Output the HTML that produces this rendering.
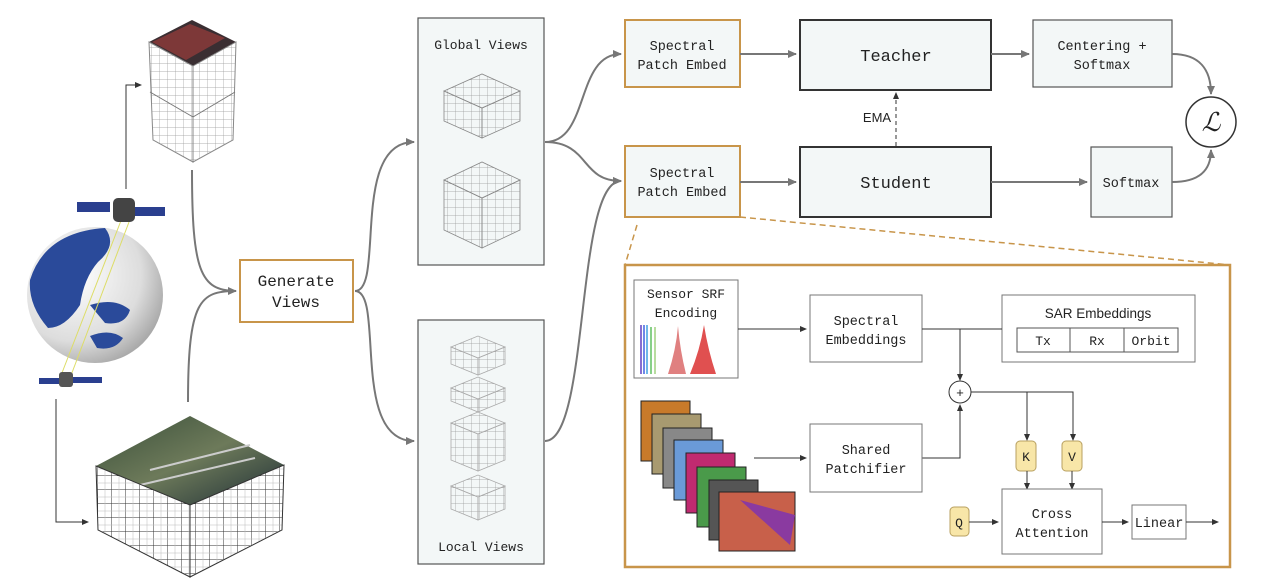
<!DOCTYPE html>
<html><head><meta charset="utf-8"><style>
html,body{margin:0;padding:0;background:#fff;}
svg{display:block;}
text{font-family:"Liberation Mono",monospace;fill:#222;}
.s{font-family:"Liberation Sans",sans-serif;}
</style></head><body>
<svg width="1263" height="582" viewBox="0 0 1263 582" xmlns="http://www.w3.org/2000/svg">
<defs>
<marker id="ag" markerWidth="10" markerHeight="10" refX="8" refY="5" orient="auto" markerUnits="userSpaceOnUse"><path d="M0,1 L9,5 L0,9 Z" fill="#777"/></marker>
<marker id="ak" markerWidth="8" markerHeight="8" refX="6" refY="4" orient="auto" markerUnits="userSpaceOnUse"><path d="M0,1 L7,4 L0,7 Z" fill="#333"/></marker>
<pattern id="grid" width="8" height="8" patternUnits="userSpaceOnUse"><path d="M8 0V8H0" fill="none" stroke="#999" stroke-width="0.7"/></pattern>
<pattern id="gridk" width="14" height="14" patternUnits="userSpaceOnUse"><rect width="14" height="14" fill="#fff"/><path d="M14 0V14H0" fill="none" stroke="#333" stroke-width="1"/><path d="M7 0V14M0 7H14" stroke="#bbb" stroke-width="0.5"/></pattern>
<radialGradient id="globe" cx="0.35" cy="0.35" r="0.7"><stop offset="0" stop-color="#fff"/><stop offset="0.7" stop-color="#ddd"/><stop offset="1" stop-color="#aaa"/></radialGradient>
<linearGradient id="sat" x1="0" y1="0" x2="1" y2="1"><stop offset="0" stop-color="#3a4f3a"/><stop offset="0.5" stop-color="#6d7a5a"/><stop offset="1" stop-color="#1e2e36"/></linearGradient>
</defs>

<!-- left: tall cube -->
<polygon points="149,42 192,20 236,42 193,66" fill="#3a2e32"/>
<polygon points="152,42 190,24 225,38 186,60" fill="#8a3a3a" opacity="0.85"/>
<polygon points="149,42 193,66 193,162 153,140" fill="url(#grid)" stroke="#888"/>
<polygon points="193,66 236,42 233,140 193,162" fill="url(#grid)" stroke="#888"/>
<line x1="150" y1="92" x2="193" y2="117" stroke="#777"/><line x1="193" y1="117" x2="235" y2="92" stroke="#777"/>

<!-- globe -->
<circle cx="95" cy="295" r="68" fill="url(#globe)"/>
<path d="M30,280 Q45,232 105,228 Q118,245 98,262 Q84,278 80,305 Q65,328 48,328 Q28,305 30,280Z" fill="#2a4a9a"/>
<path d="M90,305 Q115,297 130,310 Q125,326 105,323 Z" fill="#2a4a9a"/>
<path d="M90,336 Q110,328 123,338 Q115,351 97,348 Z" fill="#2a4a9a"/>
<line x1="122" y1="218" x2="60" y2="378" stroke="#dd6" stroke-width="1"/>
<line x1="129" y1="222" x2="70" y2="378" stroke="#dd6" stroke-width="1"/>
<!-- satellites -->
<rect x="77" y="202" width="33" height="10" fill="#2a3f8f"/><rect x="133" y="207" width="32" height="9" fill="#2a3f8f"/>
<rect x="113" y="198" width="22" height="24" rx="5" fill="#444"/>
<rect x="39" y="378" width="24" height="6" fill="#2a3f8f"/><rect x="72" y="377" width="30" height="6" fill="#2a3f8f"/>
<rect x="59" y="372" width="14" height="15" rx="3" fill="#555"/>
<!-- sat arrows -->
<path d="M126,189 V85 H141" fill="none" stroke="#333" marker-end="url(#ak)"/>
<path d="M56,399 V522 H88" fill="none" stroke="#333" marker-end="url(#ak)"/>

<!-- bottom cube -->
<polygon points="96,466 190,416 284,465 190,505" fill="url(#sat)"/>
<path d="M150,470 L250,445 M140,485 L255,458" stroke="#ccc" stroke-width="2"/>
<polygon points="96,466 190,505 190,577 98,530" fill="url(#gridk)" stroke="#333"/>
<polygon points="190,505 284,465 282,530 190,577" fill="url(#gridk)" stroke="#333"/>

<!-- curves into Generate Views -->
<path d="M192,170 C192,270 200,291 236,291" fill="none" stroke="#777" stroke-width="2" marker-end="url(#ag)"/>
<path d="M188,402 C188,300 200,291 236,291" fill="none" stroke="#777" stroke-width="2"/>
<rect x="240" y="260" width="113" height="62" fill="#fff" stroke="#c8954a" stroke-width="2"/>
<text x="296" y="286" font-size="16" text-anchor="middle">Generate</text>
<text x="296" y="307" font-size="16" text-anchor="middle">Views</text>

<!-- to global/local -->
<path d="M355,291 C385,291 350,142 414,142" fill="none" stroke="#777" stroke-width="2" marker-end="url(#ag)"/>
<path d="M355,291 C385,291 350,441 414,441" fill="none" stroke="#777" stroke-width="2" marker-end="url(#ag)"/>

<!-- global views -->
<rect x="418" y="18" width="126" height="247" fill="#f3f7f7" stroke="#555" stroke-width="1.2"/>
<text x="481" y="49" font-size="13" text-anchor="middle">Global Views</text>
<g stroke="#888" stroke-width="0.8" fill="url(#grid)">
<polygon points="444,91 482,74 520,91 482,108"/>
<polygon points="444,91 482,108 482,138 444,121"/>
<polygon points="482,108 520,91 520,121 482,138"/>
<polygon points="444,180 482,162 520,180 482,198"/>
<polygon points="444,180 482,198 482,248 444,230"/>
<polygon points="482,198 520,180 520,230 482,248"/>
</g>
<!-- local views -->
<rect x="418" y="320" width="126" height="244" fill="#f3f7f7" stroke="#555" stroke-width="1.2"/>
<text x="481" y="551" font-size="13" text-anchor="middle">Local Views</text>
<g stroke="#aaa" stroke-width="0.8" fill="url(#grid)">
<polygon points="451,347 478,336 505,347 478,358"/><polygon points="451,347 478,358 478,375 451,364"/><polygon points="478,358 505,347 505,364 478,375"/>
<polygon points="451,388 478,377 505,388 478,399"/><polygon points="451,388 478,399 478,412 451,401"/><polygon points="478,399 505,388 505,401 478,412"/>
<polygon points="451,423 478,412 505,423 478,434"/><polygon points="451,423 478,434 478,471 451,460"/><polygon points="478,434 505,423 505,460 478,471"/>
<polygon points="451,486 478,475 505,486 478,497"/><polygon points="451,486 478,497 478,520 451,509"/><polygon points="478,497 505,486 505,509 478,520"/>
</g>

<!-- to patch embeds -->
<path d="M545,142 C590,142 575,54 621,54" fill="none" stroke="#777" stroke-width="2" marker-end="url(#ag)"/>
<path d="M545,142 C590,142 580,181 621,181" fill="none" stroke="#777" stroke-width="2" marker-end="url(#ag)"/>
<path d="M545,441 C590,441 575,181 621,181" fill="none" stroke="#777" stroke-width="2" marker-end="url(#ag)"/>

<rect x="625" y="20" width="115" height="67" fill="#f3f7f7" stroke="#c8954a" stroke-width="2"/>
<text x="682" y="50" font-size="13.5" text-anchor="middle">Spectral</text>
<text x="682" y="69" font-size="13.5" text-anchor="middle">Patch Embed</text>
<rect x="625" y="146" width="115" height="71" fill="#f3f7f7" stroke="#c8954a" stroke-width="2"/>
<text x="682" y="177" font-size="13.5" text-anchor="middle">Spectral</text>
<text x="682" y="196" font-size="13.5" text-anchor="middle">Patch Embed</text>

<path d="M740,54 H796" stroke="#777" stroke-width="2" marker-end="url(#ag)"/>
<path d="M740,182 H796" stroke="#777" stroke-width="2" marker-end="url(#ag)"/>
<rect x="800" y="20" width="191" height="70" fill="#f3f7f7" stroke="#333" stroke-width="2"/>
<text x="896" y="61" font-size="17" text-anchor="middle">Teacher</text>
<rect x="800" y="147" width="191" height="70" fill="#f3f7f7" stroke="#333" stroke-width="2"/>
<text x="896" y="188" font-size="17" text-anchor="middle">Student</text>
<text x="877" y="122" font-size="13" class="s" text-anchor="middle">EMA</text>
<path d="M896,146 V93" stroke="#333" stroke-dasharray="4,3" marker-end="url(#ak)"/>

<path d="M991,54 H1029" stroke="#777" stroke-width="2" marker-end="url(#ag)"/>
<path d="M991,182 H1087" stroke="#777" stroke-width="2" marker-end="url(#ag)"/>
<rect x="1033" y="20" width="139" height="67" fill="#f3f7f7" stroke="#555" stroke-width="1.2"/>
<text x="1102" y="50" font-size="13.5" text-anchor="middle">Centering +</text>
<text x="1102" y="69" font-size="13.5" text-anchor="middle">Softmax</text>
<rect x="1091" y="147" width="81" height="70" fill="#f3f7f7" stroke="#555" stroke-width="1.2"/>
<text x="1131" y="187" font-size="13.5" text-anchor="middle">Softmax</text>
<path d="M1172,54 C1200,54 1211,70 1211,94" fill="none" stroke="#777" stroke-width="2" marker-end="url(#ag)"/>
<path d="M1172,182 C1200,182 1211,170 1211,150" fill="none" stroke="#777" stroke-width="2" marker-end="url(#ag)"/>
<circle cx="1211" cy="122" r="25" fill="#fff" stroke="#333" stroke-width="1.5"/>
<text x="1211" y="131" font-size="26" font-style="italic" text-anchor="middle" style="font-family:'Liberation Serif',serif">ℒ</text>

<!-- dashed zoom lines -->
<path d="M740,217 L1230,265" stroke="#c8954a" stroke-width="1.5" stroke-dasharray="6,4"/>
<path d="M637,225 L625,265" stroke="#c8954a" stroke-width="1.5" stroke-dasharray="6,4"/>

<!-- detail box -->
<rect x="625" y="265" width="605" height="302" fill="#fff" stroke="#c8954a" stroke-width="2.5"/>
<rect x="634" y="280" width="104" height="98" fill="#fff" stroke="#777"/>
<text x="686" y="298" font-size="13" text-anchor="middle">Sensor SRF</text>
<text x="686" y="317" font-size="13" text-anchor="middle">Encoding</text>
<g stroke-width="1.5"><line x1="641" y1="325" x2="641" y2="374" stroke="#6040c0"/><line x1="644" y1="325" x2="644" y2="374" stroke="#4060e0"/><line x1="647" y1="325" x2="647" y2="374" stroke="#40a0e0"/><line x1="651" y1="327" x2="651" y2="374" stroke="#60c060"/><line x1="655" y1="327" x2="655" y2="374" stroke="#a0d080"/></g>
<path d="M668,374 Q676,350 678,326 Q680,350 686,374Z" fill="#e08080"/>
<path d="M690,374 Q700,350 704,325 Q708,350 716,374Z" fill="#e05050"/>

<rect x="810" y="295" width="112" height="67" fill="#fff" stroke="#777"/>
<text x="866" y="325" font-size="13.5" text-anchor="middle">Spectral</text>
<text x="866" y="344" font-size="13.5" text-anchor="middle">Embeddings</text>
<rect x="1002" y="295" width="193" height="67" fill="#fff" stroke="#777"/>
<text x="1098" y="318" font-size="13.5" class="s" text-anchor="middle">SAR Embeddings</text>
<rect x="1017" y="328" width="161" height="24" fill="#fff" stroke="#555"/>
<line x1="1070" y1="328" x2="1070" y2="352" stroke="#555"/><line x1="1124" y1="328" x2="1124" y2="352" stroke="#555"/>
<text x="1043" y="345" font-size="13" text-anchor="middle">Tx</text>
<text x="1097" y="345" font-size="13" text-anchor="middle">Rx</text>
<text x="1151" y="345" font-size="13" text-anchor="middle">Orbit</text>

<path d="M738,329 H806" stroke="#333" marker-end="url(#ak)"/>
<path d="M922,329 H1002" stroke="#333"/>
<path d="M960,329 V380" stroke="#333" marker-end="url(#ak)"/>
<circle cx="960" cy="392" r="11" fill="#fff" stroke="#333"/>
<text x="960" y="397" font-size="13" text-anchor="middle">+</text>
<path d="M922,458 H960 V405" stroke="#333" fill="none" marker-end="url(#ak)"/>
<path d="M971,392 H1073 V440" fill="none" stroke="#333" marker-end="url(#ak)"/>
<path d="M1027,392 V440" stroke="#333" marker-end="url(#ak)"/>

<!-- image stack -->
<g stroke="#222" stroke-width="1">
<rect x="641" y="401" width="49" height="60" fill="#c87a2a"/>
<rect x="652" y="414" width="49" height="60" fill="#a89a70"/>
<rect x="663" y="428" width="49" height="60" fill="#888"/>
<rect x="674" y="440" width="49" height="60" fill="#6a9ad8"/>
<rect x="686" y="453" width="49" height="60" fill="#c02a70"/>
<rect x="697" y="467" width="49" height="60" fill="#4a9a4a"/>
<rect x="709" y="480" width="49" height="60" fill="#555"/>
<rect x="719" y="492" width="76" height="59" fill="#c8604a"/>
<path d="M740,500 L790,545 L795,515Z" fill="#8a3aa0" stroke="none"/>
</g>
<path d="M754,458 H806" stroke="#333" marker-end="url(#ak)"/>
<rect x="810" y="424" width="112" height="68" fill="#fff" stroke="#777"/>
<text x="866" y="454" font-size="13.5" text-anchor="middle">Shared</text>
<text x="866" y="473" font-size="13.5" text-anchor="middle">Patchifier</text>

<rect x="1016" y="441" width="20" height="30" rx="4" fill="#f8e6a8" stroke="#b8a060"/>
<text x="1026" y="461" font-size="13" text-anchor="middle">K</text>
<rect x="1062" y="441" width="20" height="30" rx="4" fill="#f8e6a8" stroke="#b8a060"/>
<text x="1072" y="461" font-size="13" text-anchor="middle">V</text>
<path d="M1027,471 V489" stroke="#333" marker-end="url(#ak)"/>
<path d="M1072,471 V489" stroke="#333" marker-end="url(#ak)"/>
<rect x="950" y="507" width="19" height="29" rx="4" fill="#f8e6a8" stroke="#b8a060"/>
<text x="959" y="527" font-size="13" text-anchor="middle">Q</text>
<path d="M969,522 H998" stroke="#333" marker-end="url(#ak)"/>
<rect x="1002" y="489" width="100" height="65" fill="#fff" stroke="#777"/>
<text x="1052" y="518" font-size="13.5" text-anchor="middle">Cross</text>
<text x="1052" y="537" font-size="13.5" text-anchor="middle">Attention</text>
<path d="M1102,522 H1128" stroke="#333" marker-end="url(#ak)"/>
<rect x="1132" y="505" width="54" height="34" fill="#fff" stroke="#777"/>
<text x="1159" y="527" font-size="13.5" text-anchor="middle">Linear</text>
<path d="M1186,522 H1218" stroke="#333" marker-end="url(#ak)"/>
</svg>
</body></html>
